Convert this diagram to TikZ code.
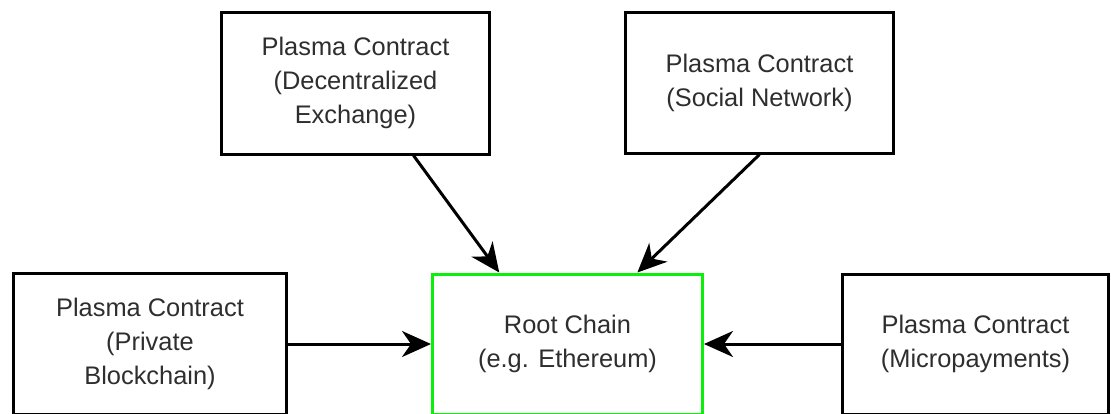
\documentclass[tikz,border=0pt]{standalone}
\usepackage{fontspec}
\setmainfont{Liberation Sans}
\usetikzlibrary{arrows.meta,calc}
\definecolor{txt}{gray}{0.18}
\definecolor{rootgreen}{RGB}{10,240,10}
\tikzset{
  box/.style={draw=black, line width=3pt, rectangle, inner sep=0pt, align=center,
    text=txt, font=\fontsize{25.4}{34}\selectfont},
  rootbox/.style={box, draw=rootgreen},
  arr/.style={line width=3pt, -{Stealth[length=29pt,width=26pt,inset=9pt]}}
}
\begin{document}
\begin{tikzpicture}[x=1pt,y=-1pt]
\useasboundingbox (0,0) rectangle (1111,413);
\node[box, minimum width=268pt, minimum height=142pt] (tl) at (355.5,83)
  {Plasma Contract\\(Decentralized\\Exchange)};
\node[box, minimum width=268pt, minimum height=141pt] (tr) at (759.5,82.5)
  {Plasma Contract\\(Social Network)};
\node[box, minimum width=273pt, minimum height=141pt] (bl) at (150,344)
  {Plasma Contract\\(Private\\Blockchain)};
\node[rootbox, minimum width=270pt, minimum height=140pt] (c) at (567.5,344)
  {Root Chain\\(e.g. Ethereum)};
\node[box, minimum width=266pt, minimum height=140pt] (br) at (975.5,344)
  {Plasma Contract\\(Micropayments)};
\draw[arr] ($(tl.south west)!0.714!(tl.south east)$) -- ($(c.north west)!0.25!(c.north east)$);
\draw[arr] (tr.south) -- ($(c.north west)!0.756!(c.north east)$);
\draw[arr] (bl.east) -- (c.west);
\draw[arr] (br.west) -- (c.east);
\end{tikzpicture}
\end{document}
